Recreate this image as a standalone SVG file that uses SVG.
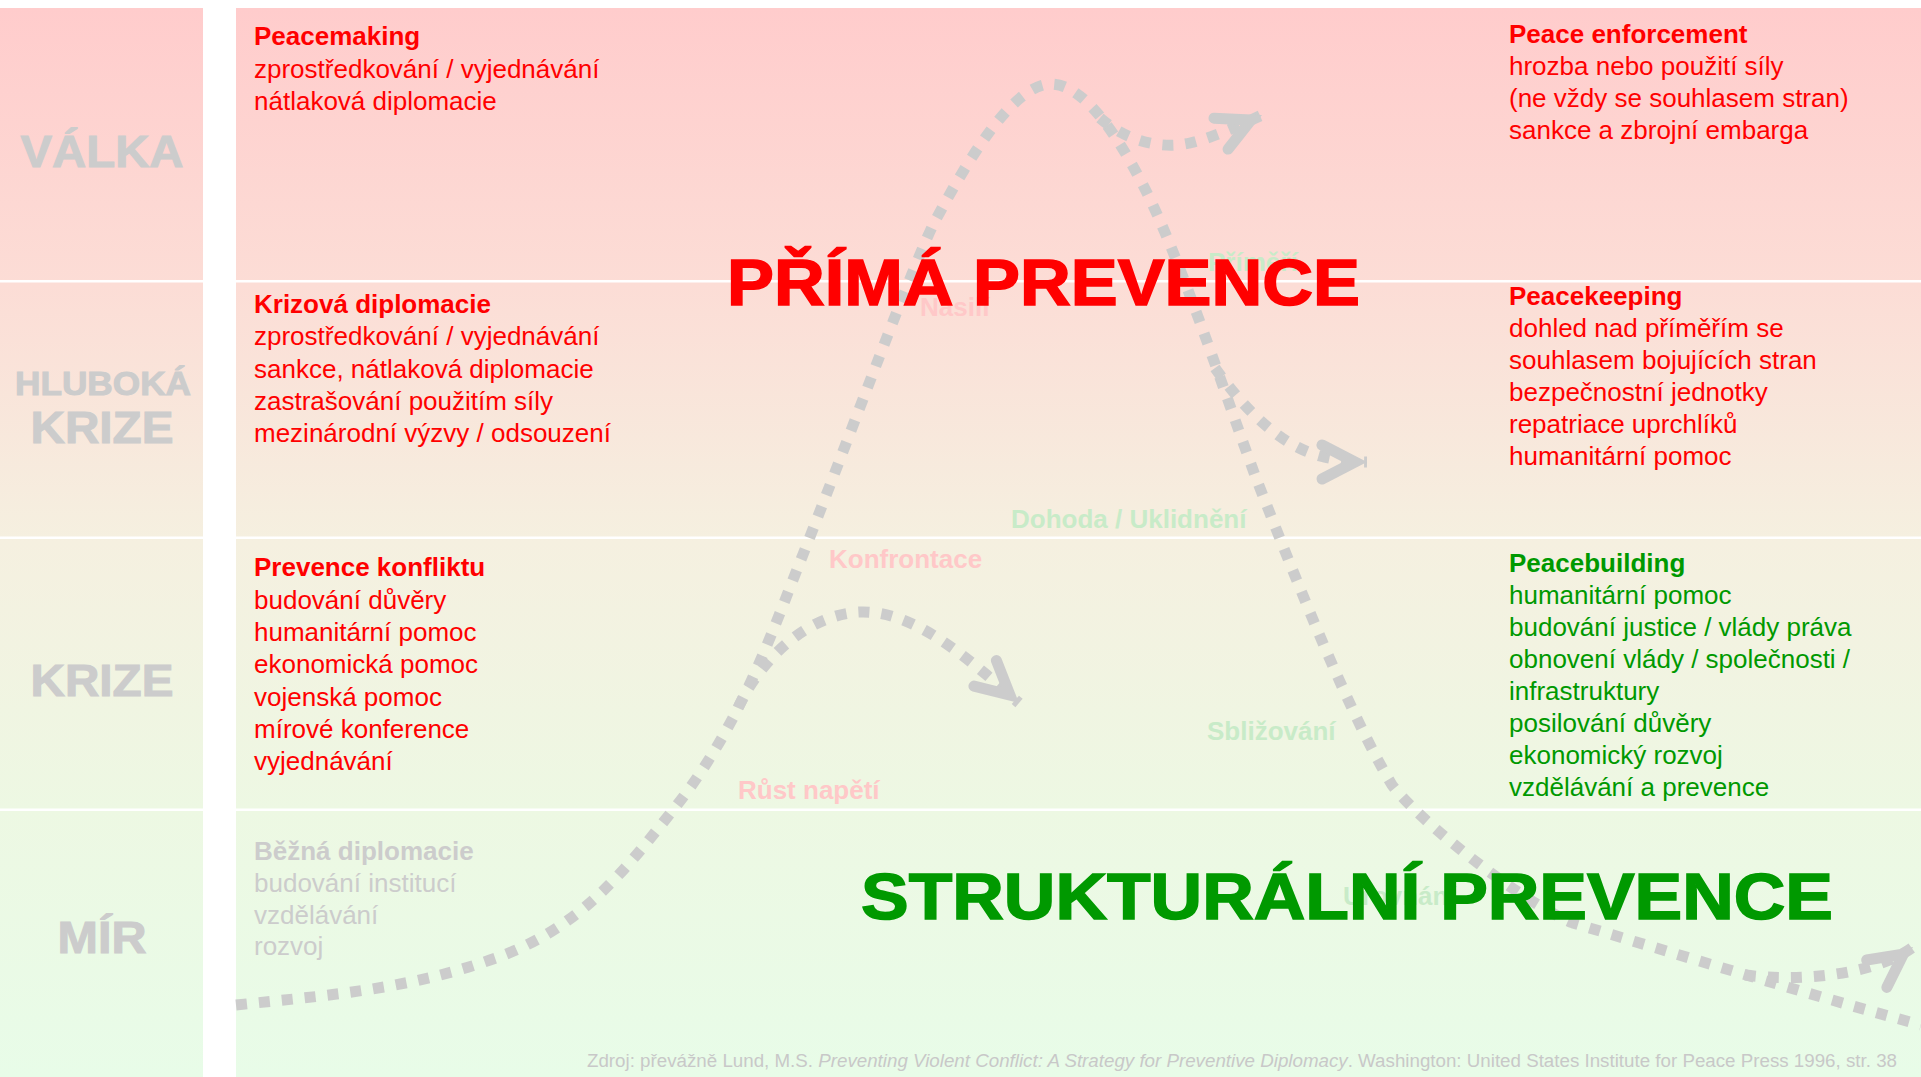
<svg xmlns="http://www.w3.org/2000/svg" width="1921" height="1077" viewBox="0 0 1921 1077">
<defs>
<linearGradient id="bg" gradientUnits="userSpaceOnUse" x1="0" y1="8" x2="0" y2="1077">
<stop offset="0" stop-color="#FFCCCC"/>
<stop offset="0.26" stop-color="#FCDDD6"/>
<stop offset="0.5" stop-color="#F5F0E0"/>
<stop offset="0.75" stop-color="#EDF8E3"/>
<stop offset="1" stop-color="#E8FCE8"/>
</linearGradient>
<marker id="ah" viewBox="-70 -40 80 80" refX="0" refY="0" markerWidth="80" markerHeight="80" markerUnits="userSpaceOnUse" orient="auto" overflow="visible">
<path d="M-45,-17 L-12,0 L-45,17" fill="none" stroke="#CCCCCC" stroke-width="11" stroke-linecap="round" stroke-linejoin="miter" stroke-dasharray="none"/>
</marker>
<style>
text{font-family:"Liberation Sans",Arial,sans-serif}
.lbl{font-weight:bold;fill:#CCCCCC;stroke:#CCCCCC;stroke-width:1;text-anchor:middle}
.t{font-size:26px}
.b{font-weight:bold}
.red{fill:#FF0000}
.green{fill:#009900}
.gray{fill:#CCCCCC}
.fr{font-weight:bold;font-size:26px;fill:#FFC8C8}
.fg{font-weight:bold;font-size:26px;fill:#C8EBC8}
.curve{fill:none;stroke:#CCCCCC;stroke-width:11;stroke-dasharray:11 12}
.big{font-weight:bold;font-size:65px;stroke-width:1.5}
</style>
</defs>
<rect x="0" y="0" width="1921" height="1077" fill="#FFFFFF"/>
<g id="background">
<rect x="0" y="8" width="203" height="1069" fill="url(#bg)"/>
<rect x="236" y="8" width="1685" height="1069" fill="url(#bg)"/>
<rect x="0" y="280" width="1921" height="2.5" fill="#FFFFFF"/>
<rect x="0" y="536.5" width="1921" height="2.5" fill="#FFFFFF"/>
<rect x="0" y="808.5" width="1921" height="2.5" fill="#FFFFFF"/>
<rect x="203" y="0" width="33" height="1077" fill="#FFFFFF"/>
</g>
<g id="row-labels">
<text id="row-valka" class="lbl" x="102" y="167" font-size="44" textLength="163" lengthAdjust="spacingAndGlyphs">VÁLKA</text>
<g id="row-hluboka">
<text class="lbl" x="103" y="395" font-size="33" textLength="176" lengthAdjust="spacingAndGlyphs">HLUBOKÁ</text>
<text class="lbl" x="102" y="443" font-size="44" textLength="143" lengthAdjust="spacingAndGlyphs">KRIZE</text>
</g>
<text id="row-krize" class="lbl" x="102" y="696" font-size="44" textLength="143" lengthAdjust="spacingAndGlyphs">KRIZE</text>
<text id="row-mir" class="lbl" x="102" y="953" font-size="44" textLength="89" lengthAdjust="spacingAndGlyphs">MÍR</text>
</g>
<g id="peacemaking">
<text class="t red"><tspan class="b" x="254" y="45">Peacemaking</tspan><tspan x="254" y="77.5">zprostředkování / vyjednávání</tspan><tspan x="254" y="110">nátlaková diplomacie</tspan></text>
</g>
<g id="krizova-diplomacie">
<text class="t red"><tspan class="b" x="254" y="313">Krizová diplomacie</tspan><tspan x="254" y="345">zprostředkování / vyjednávání</tspan><tspan x="254" y="377.5">sankce, nátlaková diplomacie</tspan><tspan x="254" y="410">zastrašování použitím síly</tspan><tspan x="254" y="442">mezinárodní výzvy / odsouzení</tspan></text>
</g>
<g id="prevence-konfliktu">
<text class="t red"><tspan class="b" x="254" y="576">Prevence konfliktu</tspan><tspan x="254" y="608.5">budování důvěry</tspan><tspan x="254" y="641">humanitární pomoc</tspan><tspan x="254" y="673">ekonomická pomoc</tspan><tspan x="254" y="705.5">vojenská pomoc</tspan><tspan x="254" y="737.5">mírové konference</tspan><tspan x="254" y="769.5">vyjednávání</tspan></text>
</g>
<g id="bezna-diplomacie">
<text class="t gray"><tspan class="b" x="254" y="860">Běžná diplomacie</tspan><tspan x="254" y="892">budování institucí</tspan><tspan x="254" y="923.5">vzdělávání</tspan><tspan x="254" y="955">rozvoj</tspan></text>
</g>
<g id="peace-enforcement">
<text class="t red"><tspan class="b" x="1509" y="43">Peace enforcement</tspan><tspan x="1509" y="75">hrozba nebo použití síly</tspan><tspan x="1509" y="107">(ne vždy se souhlasem stran)</tspan><tspan x="1509" y="139">sankce a zbrojní embarga</tspan></text>
</g>
<g id="peacekeeping">
<text class="t red"><tspan class="b" x="1509" y="305">Peacekeeping</tspan><tspan x="1509" y="337">dohled nad příměřím se</tspan><tspan x="1509" y="369">souhlasem bojujících stran</tspan><tspan x="1509" y="401">bezpečnostní jednotky</tspan><tspan x="1509" y="433">repatriace uprchlíků</tspan><tspan x="1509" y="465">humanitární pomoc</tspan></text>
</g>
<g id="peacebuilding">
<text class="t green"><tspan class="b" x="1509" y="572">Peacebuilding</tspan><tspan x="1509" y="604">humanitární pomoc</tspan><tspan x="1509" y="636">budování justice / vlády práva</tspan><tspan x="1509" y="668">obnovení vlády / společnosti /</tspan><tspan x="1509" y="700">infrastruktury</tspan><tspan x="1509" y="732">posilování důvěry</tspan><tspan x="1509" y="764">ekonomický rozvoj</tspan><tspan x="1509" y="796">vzdělávání a prevence</tspan></text>
</g>
<g id="stage-labels">
<text id="st-rust" class="fr" x="738" y="799">Růst napětí</text>
<text id="st-konfrontace" class="fr" x="829" y="568">Konfrontace</text>
<text id="st-nasili" class="fr" x="920" y="316">Násilí</text>
<text id="st-primeri" class="fg" x="1208" y="271">Příměří</text>
<text id="st-dohoda" class="fg" x="1011" y="528">Dohoda / Uklidnění</text>
<text id="st-sblizovani" class="fg" x="1207" y="740">Sbližování</text>
<text id="st-urovnani" class="fg" x="1343" y="905">Urovnání</text>
</g>
<g id="connectors">
<path id="conflict-curve" class="curve" d="M236,1005 C321,996 405,990 490,960 C580,930 625,870 673,810 C740,727 772,632 800,562 C840,462 905,285 932,227 C962,170 1011,84 1051,84 C1085,84 1120,140 1144,187 C1179,255 1221,383 1256,478 C1300,590 1350,715 1392,785 C1420,822 1523,903 1573,923 C1680,955 1800,992 1921,1025"/>
<path id="arrow-crisis" class="curve" marker-end="url(#ah)" d="M738,708 C755,670 800,615 860,612 C915,610 970,660 1019,703"/>
<path id="arrow-war" class="curve" marker-end="url(#ah)" d="M1100,118 C1125,140 1160,150 1190,143 C1215,137 1240,125 1262,115"/>
<path id="arrow-ceasefire" class="curve" marker-end="url(#ah)" d="M1215,368 C1245,410 1280,445 1320,456 C1340,461 1355,462 1367,462"/>
<path id="arrow-peace" class="curve" marker-end="url(#ah)" d="M1745,975 C1800,982 1875,975 1913,947"/>
</g>
<g id="titles">
<text id="title-prima" class="big red" stroke="#FF0000" x="727" y="305" textLength="633" lengthAdjust="spacingAndGlyphs">PŘÍMÁ PREVENCE</text>
<text id="title-strukturalni" class="big green" stroke="#009900" x="861" y="919" textLength="972" lengthAdjust="spacingAndGlyphs">STRUKTURÁLNÍ PREVENCE</text>
</g>
<g id="source">
<text x="587" y="1067" font-size="18" fill="#C8C8C8" textLength="1310" lengthAdjust="spacingAndGlyphs">Zdroj: převážně Lund, M.S. <tspan font-style="italic">Preventing Violent Conflict: A Strategy for Preventive Diplomacy</tspan>. Washington: United States Institute for Peace Press 1996, str. 38</text>
</g>
</svg>
